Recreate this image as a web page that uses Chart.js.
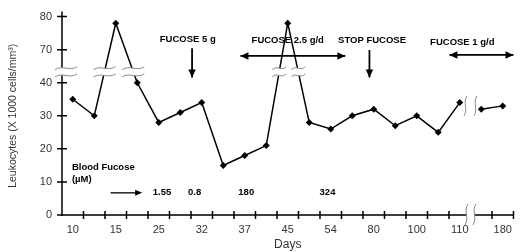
<!DOCTYPE html>
<html>
<head>
<meta charset="utf-8">
<script src="https://cdn.jsdelivr.net/npm/chart.js@4/dist/chart.umd.min.js"></script>
<style>
  html, body { margin: 0; padding: 0; background: #fff; }
  #wrap { width: 520px; height: 252px; }
</style>
</head>
<body>
<div id="wrap"><canvas id="leukoChart"></canvas></div>
<script>
// ── data
const dayLabels  = ['10','','15','','25','','32','','37','','45','','54','','80','','100','','110','','180'];
const leukocytes = [35, 30, 78, 40, 28, 31, 34, 15, 18, 21, 78, 28, 26, 30, 32, 27, 30, 25, 34, 32, 33];
const yTickVals  = [0, 10, 20, 30, 40, 70, 80];
const fucoseVals = ['1.55', '0.8', '180', '324'];
const fucoseAt   = [4.15, 5.67, 8.07, 11.85];   // category positions of the blood fucose values

// broken y axis: 40 → 70 gap is squeezed to one step
const BREAK_SHIFT = 20;
const mapY = v => v > 45 ? v - BREAK_SHIFT : v;
const BREAK_LO = 42.2, BREAK_HI = 44.4;
const LINE_GAP_AFTER = 18;          // segment 110 → 180 is interrupted
const X_BREAK_AT = 18.5;            // category boundary where the day axis is broken
const CROSS_BREAKS = [[1, 22], [2, 22], [9, 14], [10, 14]];  // [segment, mark width]

const notes = [
  { text: 'FUCOSE 5 g',     i: 5.35,  v: 53.1 },
  { text: 'FUCOSE 2.5 g/d', i: 10.0,  v: 52.8 },
  { text: 'STOP FUCOSE',    i: 13.92, v: 52.8 },
  { text: 'FUCOSE 1 g/d',   i: 18.12, v: 52.2 },
];

Chart.defaults.font.family = "'Liberation Sans', Arial, sans-serif";

// ── helpers
function hPair(ctx, x0, x1, yTop, yBot) {
  const w = x1 - x0;
  ctx.beginPath();
  ctx.moveTo(x0, yTop + 1.5);
  ctx.bezierCurveTo(x0 + w * 0.33, yTop - 3.5, x0 + w * 0.67, yTop + 3.5, x1, yTop - 1.5);
  ctx.lineTo(x1, yBot - 1.5);
  ctx.bezierCurveTo(x0 + w * 0.67, yBot + 3.5, x0 + w * 0.33, yBot - 3.5, x0, yBot + 1.5);
  ctx.closePath();
  ctx.fillStyle = '#fff';
  ctx.fill();
  ctx.strokeStyle = '#888';
  ctx.lineWidth = 1;
  [yTop, yBot].forEach(y => {
    ctx.beginPath();
    ctx.moveTo(x0, y + 1.5);
    ctx.bezierCurveTo(x0 + w * 0.33, y - 3.5, x0 + w * 0.67, y + 3.5, x1, y - 1.5);
    ctx.stroke();
  });
}

function vPair(ctx, xL, xR, y0, y1, fill) {
  const h = y1 - y0;
  if (fill) {
    ctx.fillStyle = '#fff';
    ctx.fillRect(xL, y0 + 2, xR - xL, h - 4);
  }
  ctx.strokeStyle = '#888';
  ctx.lineWidth = 1;
  [xL, xR].forEach(x => {
    ctx.beginPath();
    ctx.moveTo(x + 1.5, y0);
    ctx.bezierCurveTo(x - 3, y0 + h * 0.33, x + 3, y0 + h * 0.67, x - 1.5, y1);
    ctx.stroke();
  });
}

function arrowHead(ctx, x, y, ang, len, wid) {
  ctx.save();
  ctx.translate(x, y);
  ctx.rotate(ang);
  ctx.beginPath();
  ctx.moveTo(0, 0);
  ctx.lineTo(-len, -wid / 2);
  ctx.lineTo(-len, wid / 2);
  ctx.closePath();
  ctx.fill();
  ctx.restore();
}

function arrow(ctx, x0, y0, x1, y1, both) {
  const ang = Math.atan2(y1 - y0, x1 - x0);
  ctx.strokeStyle = '#000';
  ctx.fillStyle = '#000';
  ctx.lineWidth = 1.8;
  ctx.beginPath();
  ctx.moveTo(x0, y0);
  ctx.lineTo(x1, y1);
  ctx.stroke();
  arrowHead(ctx, x1, y1, ang, 8, 7.5);
  if (both) arrowHead(ctx, x0, y0, ang + Math.PI, 8, 7.5);
}

// ── axes, breaks and annotations
const breakPlugin = {
  id: 'breaks',
  afterDatasetsDraw(chart) {
    const { ctx, chartArea: a, scales: { x, y } } = chart;
    const px = i => x.getPixelForValue(i);
    const py = v => y.getPixelForValue(v);
    ctx.save();

    // axis lines + crossing ticks
    ctx.strokeStyle = '#000';
    ctx.lineWidth = 1.5;
    ctx.beginPath();
    ctx.moveTo(a.left, py(60) - 5);
    ctx.lineTo(a.left, a.bottom + 1);
    ctx.moveTo(a.left, a.bottom);
    ctx.lineTo(a.right, a.bottom);
    yTickVals.forEach(t => {
      ctx.moveTo(a.left - 5, py(mapY(t)));
      ctx.lineTo(a.left + 5, py(mapY(t)));
    });
    for (let k = 1; k <= dayLabels.length; k++) {
      if (k - 0.5 === X_BREAK_AT) continue;
      ctx.moveTo(px(k - 0.5), a.bottom - 4);
      ctx.lineTo(px(k - 0.5), a.bottom + 4);
    }
    ctx.stroke();

    // y-axis break and where the line crosses it
    const yT = py(BREAK_HI), yB = py(BREAK_LO), yMid = (yT + yB) / 2;
    hPair(ctx, a.left - 7, a.left + 15, yT, yB);
    const meta = chart.getDatasetMeta(0).data;
    CROSS_BREAKS.forEach(([s, w]) => {
      const p0 = meta[s], p1 = meta[s + 1];
      const t = (yMid - p0.y) / (p1.y - p0.y);
      const cx = p0.x + (p1.x - p0.x) * t;
      hPair(ctx, cx - w / 2, cx + w / 2, yT, yB);
    });

    // day-axis break
    const xb = px(X_BREAK_AT);
    vPair(ctx, xb - 4, xb + 4, a.bottom - 11, a.bottom + 10, true);
    // break in the data line
    const q0 = meta[LINE_GAP_AFTER], q1 = meta[LINE_GAP_AFTER + 1];
    const qm = (q0.y + q1.y) / 2;
    vPair(ctx, xb - 5, xb + 5, qm - 10, qm + 10, false);

    // treatment notes
    ctx.fillStyle = '#000';
    ctx.font = "bold 9.5px 'Liberation Sans', Arial, sans-serif";
    ctx.textAlign = 'center';
    ctx.textBaseline = 'middle';
    notes.forEach(n => ctx.fillText(n.text, px(n.i), py(n.v)));
    arrow(ctx, px(5.55), py(50.4), px(5.55), py(41.6), false);
    arrow(ctx, px(13.8), py(49.9), px(13.8), py(41.6), false);
    arrow(ctx, px(7.8), py(48.1), px(12.68), py(48.1), true);
    arrow(ctx, px(17.52), py(48.4), px(20.5), py(48.4), true);

    // blood fucose row
    ctx.fillStyle = '#000';
    ctx.textAlign = 'left';
    ctx.fillText('Blood Fucose', px(-0.04), py(14.5));
    ctx.fillText('(µM)', px(-0.04), py(10.8));
    ctx.textAlign = 'center';
    fucoseVals.forEach((s, k) => ctx.fillText(s, px(fucoseAt[k]), py(6.7)));
    ctx.lineWidth = 1.3;
    ctx.beginPath();
    ctx.moveTo(px(1.76), py(6.7));
    ctx.lineTo(px(3.23) - 6, py(6.7));
    ctx.stroke();
    arrowHead(ctx, px(3.23), py(6.7), 0, 7, 6);

    ctx.restore();
  },
};

new Chart(document.getElementById('leukoChart'), {
  type: 'line',
  data: {
    labels: dayLabels,
    datasets: [{
      data: leukocytes.map(mapY),
      borderColor: '#000',
      borderWidth: 1.5,
      tension: 0,
      pointStyle: 'rectRot',
      pointRadius: 3.5,
      pointBackgroundColor: '#000',
      pointBorderColor: '#000',
      pointBorderWidth: 0,
      segment: {
        borderColor: c => c.p0DataIndex === LINE_GAP_AFTER ? 'rgba(0,0,0,0)' : '#000',
      },
    }],
  },
  options: {
    responsive: true,
    maintainAspectRatio: false,
    animation: false,
    layout: { padding: { top: 7, right: 2, left: 0, bottom: 0 } },
    plugins: { legend: { display: false }, tooltip: { enabled: false } },
    scales: {
      x: {
        offset: true,
        afterFit: s => { s.height = 37; },
        grid: { display: false, drawTicks: false },
        border: { display: false },
        ticks: { autoSkip: false, maxRotation: 0, color: '#333', font: { size: 11 }, padding: 8 },
        title: { display: true, text: 'Days', color: '#333', font: { size: 12 }, padding: { top: 1, bottom: 0 } },
      },
      y: {
        min: 0,
        max: 60,
        afterBuildTicks: s => { s.ticks = yTickVals.map(v => ({ value: mapY(v) })); },
        afterFit: s => { s.width = 62; },
        grid: { display: false, drawTicks: false },
        border: { display: false },
        ticks: {
          color: '#333',
          font: { size: 11 },
          padding: 10,
          callback: v => {
            const t = yTickVals.find(k => mapY(k) === v);
            return t === undefined ? '' : t;
          },
        },
        title: {
          display: true,
          text: 'Leukocytes (X 1000 cells/mm³)',
          color: '#333',
          font: { size: 10.5 },
          padding: { top: 7, bottom: 0 },
        },
      },
    },
  },
  plugins: [breakPlugin],
});
</script>
</body>
</html>
